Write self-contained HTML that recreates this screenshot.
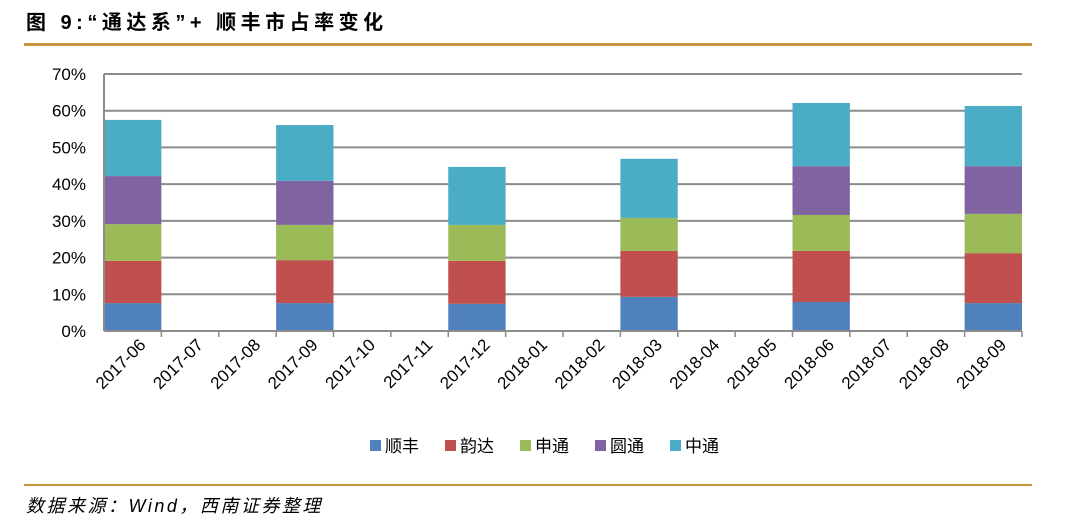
<!DOCTYPE html>
<html><head><meta charset="utf-8"><style>
body{margin:0;background:#fff;width:1080px;height:521px;overflow:hidden;font-family:"Liberation Sans","Noto Sans CJK SC",sans-serif}
</style></head><body>
<svg width="1080" height="521" xmlns="http://www.w3.org/2000/svg">
<text x="26" y="29" font-size="20" font-weight="bold" letter-spacing="4.5" fill="#000" font-family="Liberation Sans,Noto Sans CJK SC,sans-serif">图 9:“通达系”+ 顺丰市占率变化</text>
<rect x="24" y="43" width="1008" height="3" fill="#c8963c"/>
<rect x="24" y="484" width="1008" height="2" fill="#c8963c"/>
<text x="26" y="512" font-size="18" font-style="italic" letter-spacing="2.5" fill="#000" font-family="Liberation Sans,Noto Sans CJK SC,sans-serif">数据来源：Wind，西南证券整理</text>
<g id="grid"></g><g id="bars"></g><g id="axes"></g><g id="legend"></g>
</svg>
<script>
const categories=["2017-06","2017-07","2017-08","2017-09","2017-10","2017-11","2017-12","2018-01","2018-02","2018-03","2018-04","2018-05","2018-06","2018-07","2018-08","2018-09"];
const seriesNames=["顺丰","韵达","申通","圆通","中通"];
const colors=["#4f81bd","#c0504d","#9bbb59","#8064a2","#4bacc6"];
const sf=[7.6,null,null,7.6,null,null,7.4,null,null,9.3,null,null,7.9,null,null,7.6];
const yd=[11.5,null,null,11.7,null,null,11.7,null,null,12.5,null,null,13.9,null,null,13.6];
const st=[10.0,null,null,9.6,null,null,9.8,null,null,9.0,null,null,9.8,null,null,10.7];
const yt=[13.1,null,null,12.0,null,null,0,null,null,0,null,null,13.3,null,null,13.0];
const zt=[15.3,null,null,15.2,null,null,15.8,null,null,16.1,null,null,17.2,null,null,16.4];
const yTicks=[0,10,20,30,40,50,60,70];
const series=[sf,yd,st,yt,zt];
const NS="http://www.w3.org/2000/svg";
const L=104,R=1022,T=74,B=331,yMax=70;
const bw=(R-L)/categories.length;
const y=v=>B-(v/yMax)*(B-T);
const xc=i=>L+bw*i;
function mk(tag,attrs,parent){const e=document.createElementNS(NS,tag);for(const k in attrs)e.setAttribute(k,attrs[k]);document.getElementById(parent).appendChild(e);return e;}
yTicks.forEach(t=>{
 const ln=mk('line',{x1:L,x2:R,y1:y(t),y2:y(t),stroke:'#8c8c8c','stroke-width':2},'grid');
 
 
 const tx=mk('text',{x:L-18,y:y(t)+6,'text-anchor':'end','font-size':17,fill:'#000'},'axes');
 tx.textContent=t+'%';
 
 
});
mk('line',{x1:L,x2:L,y1:T,y2:B,stroke:'#8c8c8c','stroke-width':2},'axes');
categories.forEach((c,i)=>{
 let base=0;
 series.forEach((s,k)=>{
  const v=s[i];if(v==null||v===0)return;
  const r=mk('rect',{x:xc(i),y:y(base+v),width:bw,height:y(base)-y(base+v),fill:colors[k]},'bars');
  
  
  base+=v;
 });
 mk('line',{x1:xc(i+1),x2:xc(i+1),y1:B,y2:B+6,stroke:'#8c8c8c','stroke-width':1.5},'axes');
 const cx=xc(i)+bw/2+14,cy=B+15;
 const tx=mk('text',{x:cx,y:cy,'text-anchor':'end','font-size':17,fill:'#000',transform:`rotate(-45 ${cx} ${cy})`},'axes');
 tx.textContent=c;
 
 
});
mk('line',{x1:L,x2:R,y1:B,y2:B,stroke:'#8c8c8c','stroke-width':2},'axes');
const lx=[370,445,520,595,670];
seriesNames.forEach((n,k)=>{
 const r=mk('rect',{x:lx[k],y:440,width:11,height:11,fill:colors[k]},'legend');
 
 
 const t=mk('text',{x:lx[k]+15,y:452,'font-size':17,fill:'#000'},'legend');
 t.textContent=n;
 
 
});
</script>
</body></html>
